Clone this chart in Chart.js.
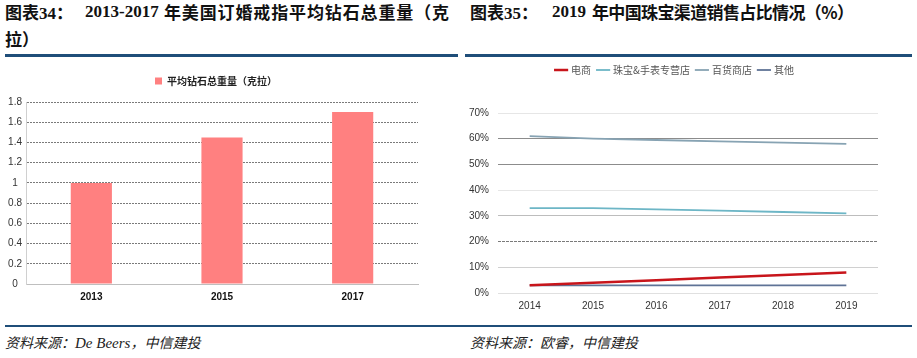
<!DOCTYPE html>
<html><head><meta charset="utf-8">
<script src="https://cdn.jsdelivr.net/npm/chart.js@4.4.1/dist/chart.umd.min.js"></script>
<style>
html,body{margin:0;padding:0;background:#fff;width:917px;height:358px;overflow:hidden;position:relative;font-family:"Noto Sans CJK SC",sans-serif;}
.t{position:absolute;font-weight:bold;font-size:17px;color:#111;white-space:nowrap;line-height:20px;}
.n{font-family:"Liberation Serif",serif;font-weight:bold;font-size:17px;}
.rule{position:absolute;height:3px;background:#1F4E79;}
.src{position:absolute;font-style:italic;font-size:14px;color:#222;white-space:nowrap;top:332px;}
.src .n{font-family:"Liberation Serif",serif;font-weight:normal;font-size:15px;}
canvas{position:absolute;}
</style></head><body>
<div class="t" style="left:5px;top:2px;">图表<span class="n">34</span>：</div>
<div class="t n" style="left:85px;top:2px;">2013-2017</div>
<div class="t fit" data-w="285" style="left:164px;top:2px;">年美国订婚戒指平均钻石总重量（克</div>
<div class="t" style="left:5px;top:29px;">拉）</div>
<div class="t" style="left:470px;top:2px;">图表<span class="n">35</span>：</div>
<div class="t n" style="left:552px;top:2px;">2019</div>
<div class="t fit" data-w="262" style="left:592px;top:2px;">年中国珠宝渠道销售占比情况（%）</div>
<div class="rule" style="left:5px;top:54px;width:453px;"></div>
<div class="rule" style="left:465px;top:54px;width:447px;"></div>
<div class="rule" style="left:5px;top:325px;width:907px;height:2px;"></div>
<div class="src" style="left:5px;">资料来源：<span class="n">De Beers</span>，中信建投</div>
<div class="src" style="left:470px;">资料来源：欧睿，中信建投</div>
<canvas id="c1" style="left:0;top:62px;" width="460" height="248"></canvas>
<canvas id="c2" style="left:460px;top:58px;" width="457" height="261"></canvas>
<script>
// Chart 1 data
const barYears = ["2013", "2015", "2017"];
const barValues = [1.0, 1.45, 1.7];
const barLabel = "平均钻石总重量（克拉）";
// Chart 2 data
const lineYears = ["2014", "2015", "2016", "2017", "2018", "2019"];
const ecommerce = [3, 4, 5, 6, 7, 8];
const jewelryStores = [33, 33, 32.5, 32, 31.5, 31];
const deptStores = [61, 60, 59.5, 59, 58.5, 58];
const others = [3, 3, 3, 3, 3, 3];

// justify title runs to the reference widths
document.querySelectorAll('.fit').forEach(el => {
  const target = +el.dataset.w;
  const n = el.textContent.length;
  const w = el.getBoundingClientRect().width;
  el.style.letterSpacing = ((target - w) / Math.max(1, n - 1)) + 'px';
});

Chart.defaults.animation = false;
Chart.defaults.responsive = false;
Chart.defaults.font.family = "'Liberation Sans', 'Noto Sans CJK SC', sans-serif";

function legendTweak(extra, shift) {
  return { id: 'legendTweak',
    afterInit(chart) {
      const lg = chart.legend; if (!lg) return;
      const f = lg.fit.bind(lg);
      lg.fit = function () { f(); this.height += extra; };
    },
    afterLayout(chart) {
      const lg = chart.legend; if (!lg) return;
      lg.left += shift; lg.right += shift;
    }
  };
}

new Chart(document.getElementById('c1'), {
  type: 'bar',
  data: { labels: barYears, datasets: [{ label: barLabel, data: barValues, backgroundColor: '#FF8080', borderWidth: 0, categoryPercentage: 1, barPercentage: 0.315 }] },
  options: {
    layout: { padding: { left: 0, right: 42, top: 2, bottom: 0 } },
    plugins: {
      legend: { position: 'top', labels: { boxWidth: 7, boxHeight: 7, padding: 12, color: '#222', font: { family: "'Noto Sans CJK SC', sans-serif", size: 10, weight: 'bold' } } },
      tooltip: { enabled: false }
    },
    scales: {
      x: { grid: { display: false, drawTicks: false }, border: { color: '#BFBFBF', width: 1 },
           ticks: { color: '#111', padding: 7, font: { size: 10, weight: 'bold' } } },
      y: { min: 0, max: 1.8, afterFit: s => { s.width = 26; },
           ticks: { stepSize: 0.2, crossAlign: 'center', padding: 4, color: '#333', font: { size: 10 }, callback: v => String(Math.round(v * 10) / 10) },
           grid: { drawTicks: false, color: c => c.tick.value === 0 ? 'rgba(0,0,0,0)' : '#7A7A7A', lineWidth: 1 },
           border: { display: true, color: '#D0D0D0', dash: [2, 1] } }
    }
  },
  plugins: [legendTweak(6, 7)]
});

const gridCols = { 0: '#E0E0E0', 10: '#D0D0D0', 20: '#7A7A7A', 30: '#BDBDBD', 40: '#E6E6E6', 50: '#8C8C8C', 60: '#8C8C8C', 70: '#E6E6E6' };
new Chart(document.getElementById('c2'), {
  type: 'line',
  data: { labels: lineYears, datasets: [
    { label: '电商', data: ecommerce, borderColor: '#C8151B', backgroundColor: '#C8151B', borderWidth: 2.5, pointRadius: 0 },
    { label: '珠宝&手表专营店', data: jewelryStores, borderColor: '#6DB6C6', backgroundColor: '#6DB6C6', borderWidth: 1.8, pointRadius: 0 },
    { label: '百货商店', data: deptStores, borderColor: '#87A3B3', backgroundColor: '#87A3B3', borderWidth: 1.8, pointRadius: 0 },
    { label: '其他', data: others, borderColor: '#5F7396', backgroundColor: '#5F7396', borderWidth: 1.8, pointRadius: 0 }
  ] },
  options: {
    layout: { padding: { left: 0, right: 39, top: 0, bottom: 0 } },
    plugins: {
      legend: { position: 'top', labels: { usePointStyle: true, pointStyle: 'line', boxWidth: 14, padding: 7, color: '#555', font: { family: "'Noto Sans CJK SC', sans-serif", size: 10 } } },
      tooltip: { enabled: false }
    },
    scales: {
      x: { offset: true, grid: { display: false, drawTicks: false }, border: { display: false },
           ticks: { color: '#333', padding: 7, font: { size: 10 } } },
      y: { min: 0, max: 70, afterFit: s => { s.width = 38; },
           ticks: { stepSize: 10, padding: 9, color: '#333', font: { size: 10 }, callback: v => v + '%' },
           grid: { drawTicks: false, color: c => gridCols[c.tick.value] || '#DDD', lineWidth: 1 },
           border: { display: false, dash: c => (c.tick && c.tick.value === 20) ? [3, 1] : [] } }
    }
  },
  plugins: [legendTweak(28, 6)]
});
</script>
</body></html>
